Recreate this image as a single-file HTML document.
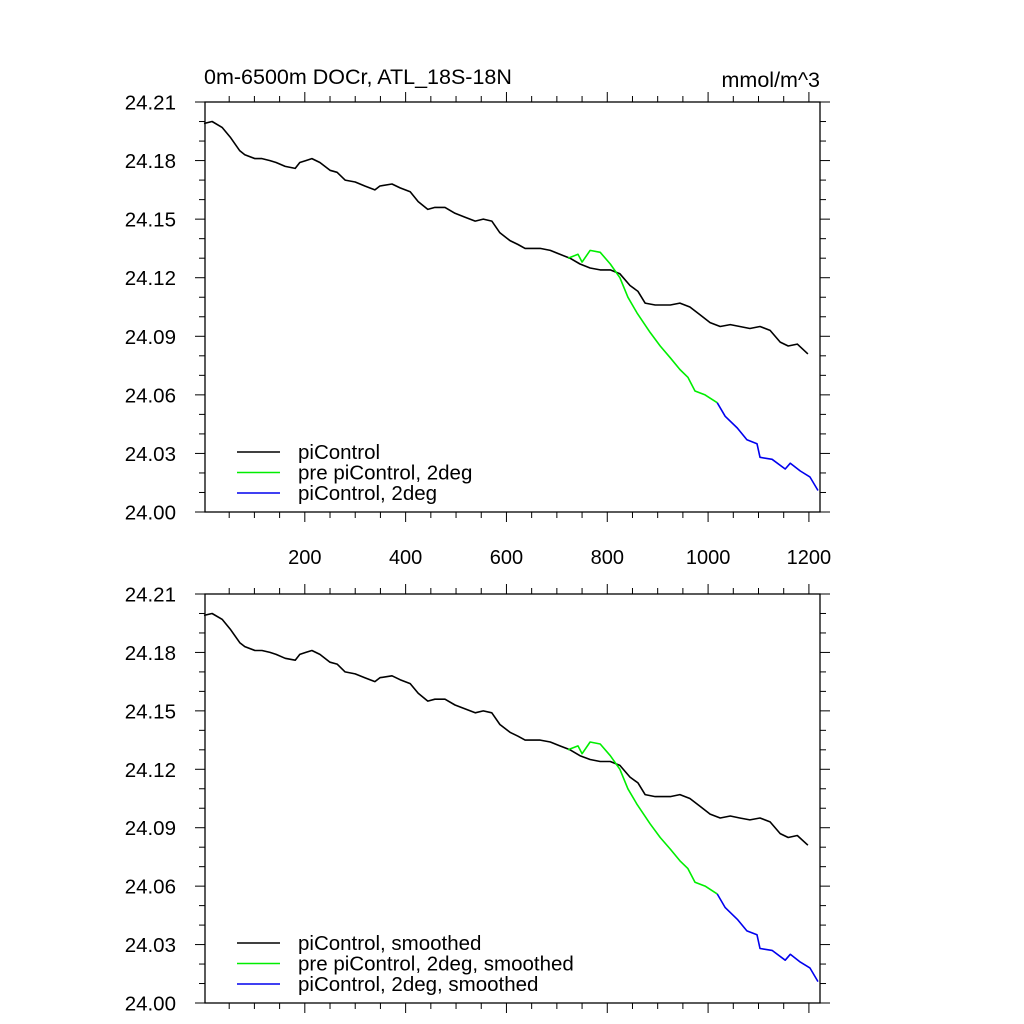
<!DOCTYPE html>
<html><head><meta charset="utf-8"><style>
html,body{margin:0;padding:0;background:#fff}
svg{display:block;font-family:"Liberation Sans",sans-serif}
</style></head><body>
<svg id="chart" width="1024" height="1024" viewBox="0 0 1024 1024" xmlns="http://www.w3.org/2000/svg">
<text x="204" y="84" font-size="21.5">0m-6500m DOCr, ATL_18S-18N</text>
<text x="820" y="87" font-size="21.5" text-anchor="end">mmol/m^3</text>
</svg>
<script>
const blackYears=[0,16,36,52,71,81,101,115,131,143,161,181,190,202,214,230,250,264,280,300,319,339,349,373,389,409,425,444,458,478,498,518,538,554,571,587,607,623,637,667,687,706,726,746,766,786,806,825,845,861,875,895,925,944,964,984,1004,1024,1044,1063,1083,1103,1123,1143,1159,1177,1198];
const blackValues=[24.199,24.200,24.197,24.192,24.185,24.183,24.181,24.181,24.180,24.179,24.177,24.176,24.179,24.180,24.181,24.179,24.175,24.174,24.170,24.169,24.167,24.165,24.167,24.168,24.166,24.164,24.159,24.155,24.156,24.156,24.153,24.151,24.149,24.150,24.149,24.143,24.139,24.137,24.135,24.135,24.134,24.132,24.130,24.127,24.125,24.124,24.124,24.122,24.116,24.113,24.107,24.106,24.106,24.107,24.105,24.101,24.097,24.095,24.096,24.095,24.094,24.095,24.093,24.087,24.085,24.086,24.081];
const greenYears=[722,742,750,766,786,806,825,841,859,885,905,925,944,960,974,994,1018];
const greenValues=[24.130,24.132,24.128,24.134,24.133,24.127,24.120,24.110,24.102,24.092,24.085,24.079,24.073,24.069,24.062,24.060,24.056];
const blueYears=[1018,1034,1058,1077,1097,1103,1127,1153,1163,1183,1202,1218];
const blueValues=[24.056,24.049,24.043,24.037,24.035,24.028,24.027,24.022,24.025,24.021,24.018,24.011];
const yTicks=[24.00,24.03,24.06,24.09,24.12,24.15,24.18,24.21];
const yTickLabels=["24.00","24.03","24.06","24.09","24.12","24.15","24.18","24.21"];
const xTicks=[200,400,600,800,1000,1200];
const legend1=["piControl","pre piControl, 2deg","piControl, 2deg"];
const legend2=["piControl, smoothed","pre piControl, 2deg, smoothed","piControl, 2deg, smoothed"];

const svg=document.getElementById('chart');
const NS='http://www.w3.org/2000/svg';
function mk(tag,attrs,parent){const e=document.createElementNS(NS,tag);for(const k in attrs)e.setAttribute(k,attrs[k]);(parent||svg).appendChild(e);return e;}
const L=205,R=820,XMIN=2,XMAX=1222;
function xs(v){return L+(v-XMIN)/(XMAX-XMIN)*(R-L);}
function panel(top,bot,legend,showX,idx){
  const g=mk('g',{});
  
  
  const ys=v=>bot-(v-24.00)/0.21*(bot-top);
  const f=mk('rect',{x:L,y:top,width:R-L,height:bot-top,fill:'none',stroke:'#000','stroke-width':1.3},g);
  
  
  for(let i=0;i<=21;i++){
    const v=24.00+i*0.01,y=ys(v),maj=i%3===0,len=maj?10:6;
    mk('line',{x1:L-len,y1:y,x2:L,y2:y,stroke:'#000','stroke-width':1},g);
    mk('line',{x1:R,y1:y,x2:R+len,y2:y,stroke:'#000','stroke-width':1},g);
  }
  yTicks.forEach((v,i)=>{
    const t=mk('text',{x:176,y:ys(v)+7.5,'font-size':20.5,'text-anchor':'end'},g);
    t.textContent=yTickLabels[i];
    
    
  });
  for(let v=50;v<=1200;v+=50){
    const x=xs(v),maj=v%200===0,len=maj?10:6;
    mk('line',{x1:x,y1:top-len,x2:x,y2:top,stroke:'#000','stroke-width':1},g);
    mk('line',{x1:x,y1:bot,x2:x,y2:bot+len,stroke:'#000','stroke-width':1},g);
  }
  if(showX) xTicks.forEach(v=>{
    const t=mk('text',{x:xs(v),y:bot+52,'font-size':20,'text-anchor':'middle'},g);
    t.textContent=String(v);
    
    
  });
  const series=[[blackYears,blackValues,'#000'],[greenYears,greenValues,'#00ee00'],[blueYears,blueValues,'#0000ee']];
  series.forEach((s,k)=>{
    const d=s[0].map((yr,i)=>(i?'L':'M')+xs(yr).toFixed(1)+','+ys(s[1][i]).toFixed(1)).join('');
    const p=mk('path',{d:d,fill:'none',stroke:s[2],'stroke-width':1.6,'stroke-linejoin':'round'},g);
    
    
    const ly=bot-60+k*20.5;
    const ll=mk('line',{x1:237,y1:ly,x2:280,y2:ly,stroke:s[2],'stroke-width':1.6},g);
    
    
    const lt=mk('text',{x:298,y:ly+7,'font-size':20.5},g);
    lt.textContent=legend[k];
    
    
  });
}
panel(102,512,legend1,true,1);
panel(594,1003,legend2,false,2);
</script>
</body></html>
